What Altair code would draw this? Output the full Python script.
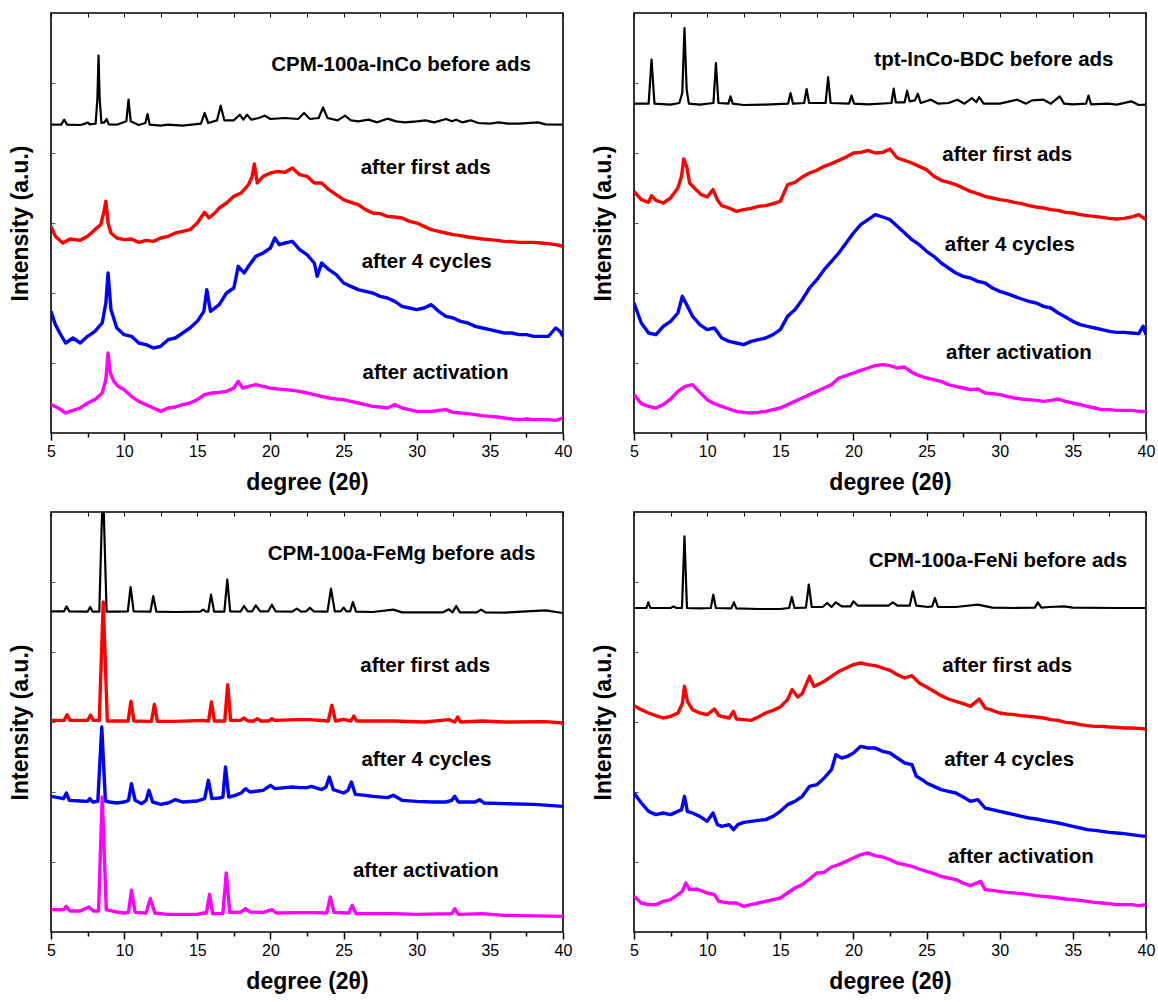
import altair as alt
import pandas as pd

# ---------------------------------------------------------------------------
# PXRD patterns (2-theta in degrees, intensity in arbitrary units)
# ---------------------------------------------------------------------------

# CPM-100a-InCo
inco_before_x = [5.0, 5.7, 5.9, 6.1, 7.0, 7.35, 7.5, 7.65, 8.05, 8.17, 8.25, 8.33, 8.45, 8.65, 8.8,
                 8.95, 9.5, 10.15, 10.3, 10.45, 11.0, 11.45, 11.6, 11.75, 12.5, 13.0, 14.0, 15.25, 15.5,
                 15.75, 16.35, 16.6, 16.85, 17.5, 17.9, 18.15, 18.4, 18.7, 19.2, 19.6, 20.0, 21.0, 21.9,
                 22.3, 22.7, 23.3, 23.6, 23.9, 24.6, 25.1, 25.5, 26.0, 26.7, 27.3, 28.0, 28.6, 29.2,
                 30.0, 30.6, 31.2, 32.0, 32.4, 32.7, 33.1, 33.7, 34.2, 35.0, 35.6, 36.2, 37.0, 38.3,
                 38.8, 40.0]
inco_before_y = [925, 925, 940, 925, 924, 928, 932, 926, 928, 1000, 1132, 1000, 930, 932, 942,
                 926, 925, 935, 1000, 935, 924, 930, 957, 925, 922, 925, 922, 928, 960,
                 930, 938, 982, 938, 938, 955, 940, 955, 940, 945, 952, 942, 945, 942,
                 960, 942, 945, 977, 945, 938, 952, 938, 935, 940, 932, 943, 935, 932,
                 935, 938, 932, 942, 935, 940, 932, 938, 930, 928, 932, 928, 928, 932,
                 926, 925]

inco_first_x = [5.0, 5.3, 5.8, 6.3, 7.0, 7.5, 8.0, 8.4, 8.6, 8.75, 8.9, 9.1, 9.5, 10.0, 10.5, 11.0,
                11.5, 12.0, 12.5, 13.0, 13.5, 14.0, 14.5, 15.0, 15.5, 15.8, 16.2, 16.5, 17.0, 17.5,
                18.0, 18.5, 18.75, 18.9, 19.1, 19.5, 20.0, 20.5, 21.0, 21.5, 22.0, 22.5, 23.0, 23.5,
                24.0, 24.5, 25.0, 25.5, 26.0, 26.5, 27.0, 27.5, 28.0, 28.5, 29.0, 29.5, 30.0, 30.5,
                31.0, 31.5, 32.0, 32.5, 33.0, 33.5, 34.0, 34.5, 35.0, 35.5, 36.0, 36.5, 37.0, 37.5,
                38.0, 38.5, 39.0, 39.5, 40.0]
inco_first_y = [620, 590, 570, 582, 578, 590, 610, 625, 660, 695, 630, 600, 585, 580, 582, 572,
                578, 575, 585, 590, 600, 605, 610, 630, 662, 645, 660, 675, 690, 710,
                720, 745, 770, 807, 750, 770, 780, 785, 782, 795, 775, 770, 750, 750,
                730, 715, 700, 692, 685, 670, 660, 658, 650, 648, 645, 635, 630, 620,
                610, 605, 600, 595, 592, 588, 585, 582, 580, 578, 575, 574, 572, 572,
                572, 570, 568, 565, 560]

inco_cycles_x = [5.0, 5.3, 5.6, 6.0, 6.5, 7.0, 7.5, 8.0, 8.5, 8.75, 8.9, 9.1, 9.5, 10.0, 10.5, 11.0,
                 11.5, 12.0, 12.5, 13.0, 13.5, 14.0, 14.5, 15.0, 15.45, 15.65, 15.9, 16.5, 17.0, 17.5,
                 17.8, 18.2, 18.5, 19.0, 19.5, 20.0, 20.3, 20.6, 21.0, 21.5, 22.0, 22.5, 23.0, 23.2,
                 23.5, 24.0, 24.5, 25.0, 25.5, 26.0, 26.5, 27.0, 27.5, 28.0, 28.5, 29.0, 29.5, 30.0,
                 30.5, 31.0, 31.5, 32.0, 32.5, 33.0, 33.5, 34.0, 34.5, 35.0, 35.5, 36.0, 36.5, 37.0,
                 37.5, 38.0, 38.5, 39.0, 39.5, 39.8, 40.0]
inco_cycles_y = [365, 325, 300, 270, 285, 270, 290, 305, 330, 390, 480, 370, 315, 295, 290, 270,
                 265, 255, 260, 280, 285, 300, 315, 335, 365, 430, 365, 385, 420, 435,
                 500, 480, 500, 530, 540, 555, 585, 565, 570, 575, 550, 535, 510, 470,
                 510, 490, 475, 450, 440, 430, 425, 420, 410, 405, 395, 380, 375, 370,
                 375, 385, 365, 350, 345, 335, 330, 320, 315, 310, 305, 300, 300, 295,
                 295, 290, 290, 290, 315, 305, 290]

inco_act_x = [5.0, 5.5, 6.0, 6.5, 7.0, 7.5, 8.0, 8.5, 8.75, 8.9, 9.05, 9.3, 9.6, 10.0, 10.5, 11.0,
              11.5, 12.0, 12.5, 13.0, 13.5, 14.0, 14.5, 15.0, 15.5, 16.0, 16.5, 17.0, 17.5, 17.8,
              18.1, 18.5, 19.0, 19.5, 20.0, 20.5, 21.0, 21.5, 22.0, 22.5, 23.0, 23.5, 24.0, 24.5,
              25.0, 25.5, 26.0, 26.5, 27.0, 27.5, 28.0, 28.5, 29.0, 29.5, 30.0, 30.5, 31.0, 31.5,
              32.0, 32.5, 33.0, 33.5, 34.0, 34.5, 35.0, 35.5, 36.0, 36.5, 37.0, 37.5, 38.0, 38.5,
              39.0, 39.5, 40.0]
inco_act_y = [85, 75, 60, 68, 75, 90, 100, 120, 160, 240, 180, 155, 140, 130, 110, 95,
              85, 75, 65, 75, 78, 85, 90, 100, 115, 120, 122, 125, 135, 155,
              135, 140, 145, 140, 135, 132, 130, 128, 125, 120, 115, 110, 105, 102,
              100, 95, 90, 85, 80, 78, 75, 85, 75, 70, 65, 65, 65, 68,
              70, 62, 60, 58, 55, 52, 50, 48, 45, 42, 40, 42, 40, 40,
              40, 38, 45]

# tpt-InCo-BDC
bdc_before_x = [5.0, 6.0, 6.2, 6.4, 7.5, 8.1, 8.3, 8.45, 8.6, 8.75, 9.5, 10.43, 10.6, 10.77, 11.45,
                11.6, 11.75, 12.5, 14.0, 15.53, 15.7, 15.87, 16.63, 16.8, 16.97, 18.1, 18.27, 18.44,
                19.7, 19.87, 20.04, 21.0, 22.6, 22.75, 22.9, 23.5, 23.67, 23.84, 24.2, 24.4, 24.6,
                25.3, 25.8, 26.5, 27.1, 27.6, 28.1, 28.4, 28.6, 28.9, 30.0, 31.2, 31.8, 32.2, 33.0,
                33.5, 34.1, 34.4, 35.0, 35.9, 36.07, 36.25, 37.4, 38.0, 39.0, 39.5, 40.0]
bdc_before_y = [988, 988, 1120, 988, 985, 990, 1020, 1215, 1030, 988, 985, 990, 1110, 990, 988,
                1010, 988, 984, 985, 988, 1020, 988, 990, 1032, 990, 990, 1068, 990,
                988, 1012, 988, 986, 990, 1033, 992, 992, 1027, 995, 998, 1018, 990,
                1000, 988, 990, 1000, 988, 1005, 992, 1008, 988, 988, 1000, 988, 998, 1000,
                988, 1010, 988, 986, 988, 1012, 986, 988, 985, 995, 984, 985]

bdc_first_x = [5.0, 5.5, 6.0, 6.2, 6.5, 7.0, 7.5, 8.0, 8.25, 8.4, 8.6, 8.8, 9.2, 9.6, 10.0, 10.4,
               10.7, 11.0, 11.5, 12.0, 12.5, 13.0, 13.5, 14.0, 14.5, 15.0, 15.5, 16.0, 16.5, 17.0,
               17.5, 18.0, 18.5, 19.0, 19.5, 20.0, 20.5, 21.0, 21.5, 22.0, 22.5, 23.0, 23.5, 24.0,
               24.5, 25.0, 25.5, 26.0, 26.5, 27.0, 27.5, 28.0, 28.5, 29.0, 29.5, 30.0, 30.5, 31.0,
               31.5, 32.0, 32.5, 33.0, 33.5, 34.0, 34.5, 35.0, 35.5, 36.0, 36.5, 37.0, 37.5, 38.0,
               38.5, 39.0, 39.5, 40.0]
bdc_first_y = [725, 700, 692, 712, 698, 690, 705, 735, 770, 822, 800, 750, 732, 715, 708, 730,
               700, 682, 675, 665, 670, 674, 680, 682, 688, 695, 745, 752, 768, 780,
               788, 800, 808, 818, 828, 840, 842, 848, 840, 842, 852, 825, 818, 810,
               800, 790, 770, 758, 752, 745, 735, 725, 718, 710, 705, 700, 697, 692,
               688, 682, 678, 675, 670, 668, 662, 660, 655, 652, 650, 647, 644, 642,
               644, 648, 655, 640]

bdc_cycles_x = [5.0, 5.5, 6.0, 6.5, 7.0, 7.5, 8.0, 8.3, 8.6, 9.0, 9.5, 10.0, 10.5, 11.0, 11.5, 12.0,
                12.5, 13.0, 13.5, 14.0, 14.5, 15.0, 15.5, 16.0, 16.5, 17.0, 17.5, 18.0, 18.5, 19.0,
                19.5, 20.0, 20.5, 21.0, 21.5, 22.0, 22.5, 23.0, 23.5, 24.0, 24.5, 25.0, 25.5, 26.0,
                26.5, 27.0, 27.5, 28.0, 28.5, 29.0, 29.5, 30.0, 30.5, 31.0, 31.5, 32.0, 32.5, 33.0,
                33.5, 34.0, 34.5, 35.0, 35.5, 36.0, 36.5, 37.0, 37.5, 38.0, 38.5, 39.0, 39.5, 39.8,
                40.0]
bdc_cycles_y = [390, 330, 300, 295, 320, 335, 360, 410, 385, 350, 325, 310, 315, 285, 275, 270,
                265, 275, 280, 285, 295, 310, 350, 370, 400, 435, 460, 490, 515, 540,
                570, 600, 625, 640, 655, 648, 640, 620, 600, 580, 565, 545, 530, 510,
                495, 480, 470, 465, 455, 450, 435, 425, 418, 410, 402, 395, 390, 380,
                375, 360, 348, 335, 325, 320, 315, 310, 305, 302, 302, 300, 298, 320,
                295]

bdc_act_x = [5.0, 5.5, 6.0, 6.5, 7.0, 7.5, 8.0, 8.5, 9.0, 9.5, 10.0, 10.5, 11.0, 11.5, 12.0, 12.5,
             13.0, 13.5, 14.0, 14.5, 15.0, 15.5, 16.0, 16.5, 17.0, 17.5, 18.0, 18.5, 19.0, 19.5,
             20.0, 20.5, 21.0, 21.5, 22.0, 22.5, 23.0, 23.5, 24.0, 24.5, 25.0, 25.5, 26.0, 26.5,
             27.0, 27.5, 28.0, 28.5, 29.0, 29.5, 30.0, 30.5, 31.0, 31.5, 32.0, 32.5, 33.0, 33.5,
             34.0, 34.5, 35.0, 35.5, 36.0, 36.5, 37.0, 37.5, 38.0, 38.5, 39.0, 39.5, 40.0]
bdc_act_y = [115, 88, 80, 75, 85, 102, 125, 140, 145, 122, 100, 88, 80, 72, 65, 62,
             60, 62, 65, 70, 75, 85, 95, 105, 115, 125, 135, 145, 165, 172,
             180, 188, 195, 202, 205, 202, 195, 198, 182, 172, 165, 160, 155, 145,
             140, 135, 130, 132, 120, 118, 115, 110, 105, 102, 100, 98, 95, 98,
             102, 95, 90, 85, 80, 75, 70, 70, 68, 68, 68, 65, 65]

# CPM-100a-FeMg
femg_before_x = [5.0, 5.9, 6.06, 6.25, 7.5, 7.68, 7.85, 8.3, 8.55, 8.8, 9.5, 10.25, 10.44, 10.65,
                 11.8, 11.99, 12.2, 13.5, 15.2, 15.4, 15.6, 15.75, 15.94, 16.15, 16.85, 17.05, 17.25,
                 17.95, 18.2, 18.45, 18.75, 19.0, 19.3, 19.85, 20.1, 20.35, 21.5, 21.8, 22.1, 22.45,
                 22.7, 22.95, 23.9, 24.14, 24.4, 24.8, 25.0, 25.2, 25.45, 25.64, 25.85, 27.0, 28.4,
                 29.0, 30.5, 31.8, 32.2, 32.45, 32.7, 32.95, 34.1, 34.4, 34.7, 36.0, 38.8, 40.0]
femg_before_y = [962, 962, 977, 962, 961, 975, 961, 961, 1350, 961, 961, 962, 1035, 962,
                 961, 1008, 961, 960, 961, 967, 961, 961, 1012, 961, 961, 1057, 962,
                 961, 978, 962, 962, 980, 962, 962, 982, 962, 961, 970, 961, 962,
                 973, 962, 961, 1030, 962, 962, 973, 962, 962, 990, 961, 960, 967,
                 959, 959, 959, 968, 959, 978, 959, 959, 967, 959, 958, 965, 957]

femg_first_x = [5.0, 5.9, 6.1, 6.3, 7.5, 7.7, 7.9, 8.3, 8.57, 8.85, 9.4, 10.27, 10.47, 10.67, 11.87,
                12.07, 12.27, 13.5, 15.4, 15.77, 15.97, 16.17, 16.88, 17.08, 17.28, 17.95, 18.2,
                18.45, 18.85, 19.1, 19.35, 19.9, 20.1, 20.3, 21.8, 22.7, 23.95, 24.2, 24.45, 25.0,
                25.5, 25.7, 25.9, 28.4, 30.5, 32.2, 32.6, 32.8, 33.0, 34.5, 36.0, 38.8, 40.0]
femg_first_y = [635, 635, 652, 635, 635, 650, 635, 635, 990, 633, 633, 633, 692, 633, 632,
                683, 632, 632, 635, 633, 690, 633, 633, 742, 635, 635, 642,
                633, 633, 640, 633, 633, 640, 635, 637, 637, 633, 680, 633, 638,
                633, 648, 633, 633, 630, 637, 630, 645, 630, 633, 630, 631, 627]

femg_cycles_x = [5.0, 5.5, 5.85, 6.05, 6.25, 7.0, 7.5, 7.65, 7.85, 8.2, 8.47, 8.72, 9.0, 9.5, 10.0,
                 10.3, 10.5, 10.75, 11.2, 11.5, 11.69, 11.95, 12.5, 13.0, 13.3, 13.5, 14.0, 15.0,
                 15.5, 15.76, 16.0, 16.5, 16.75, 16.93, 17.15, 17.6, 18.0, 18.3, 18.6, 19.5, 20.0,
                 20.3, 21.0, 21.5, 22.0, 22.5, 22.8, 23.5, 23.8, 24.02, 24.3, 25.0, 25.3, 25.54,
                 25.8, 26.5, 27.0, 28.0, 28.4, 29.0, 30.0, 31.0, 32.0, 32.4, 32.6, 32.85, 34.0,
                 34.3, 34.6, 36.0, 38.0, 40.0]
femg_cycles_y = [407, 403, 400, 417, 395, 393, 392, 400, 390, 392, 615, 393, 390, 387, 390,
                 395, 445, 395, 385, 395, 425, 390, 383, 387, 393, 397, 390, 393,
                 400, 455, 400, 402, 405, 495, 405, 410, 417, 430, 420, 425, 440,
                 430, 433, 435, 433, 433, 437, 427, 435, 465, 427, 417, 425, 450,
                 413, 410, 407, 403, 410, 395, 392, 390, 390, 395, 407, 390, 390,
                 397, 387, 385, 383, 377]

femg_act_x = [5.0, 5.85, 6.05, 6.3, 7.0, 7.6, 7.9, 8.25, 8.5, 8.78, 9.5, 10.0, 10.3, 10.5, 10.75,
              11.5, 11.79, 12.1, 13.0, 15.0, 15.4, 15.62, 15.84, 16.05, 16.75, 16.98, 17.22, 18.0,
              18.3, 18.6, 19.5, 20.1, 20.4, 21.8, 23.0, 23.85, 24.09, 24.35, 25.35, 25.59, 25.85,
              28.5, 30.0, 32.4, 32.6, 32.85, 34.5, 36.0, 40.0]
femg_act_y = [67, 67, 77, 63, 63, 75, 63, 63, 405, 67, 60, 57, 59, 125, 59,
              57, 100, 57, 53, 53, 57, 57, 113, 55, 55, 177, 59, 60,
              70, 60, 59, 67, 57, 58, 58, 57, 105, 59, 57, 80, 55,
              55, 53, 55, 70, 53, 55, 50, 47]

# CPM-100a-FeNi
feni_before_x = [5.0, 5.85, 5.98, 6.12, 7.5, 7.7, 7.9, 8.28, 8.45, 8.62, 9.5, 10.25, 10.42, 10.6,
                 11.65, 11.83, 12.0, 13.5, 15.0, 15.6, 15.79, 15.97, 16.75, 16.95, 17.15, 17.9, 18.2,
                 18.5, 18.8, 19.2, 19.8, 20.0, 20.3, 21.5, 22.4, 22.7, 23.0, 23.85, 24.06, 24.3,
                 25.1, 25.38, 25.57, 25.78, 27.0, 28.5, 29.5, 31.0, 32.4, 32.61, 32.85, 33.4, 34.4,
                 35.0, 38.0, 40.0]
feni_before_y = [972, 972, 989, 972, 972, 977, 972, 972, 1187, 972, 971, 972, 1012, 972,
                 971, 989, 971, 969, 969, 972, 1005, 972, 973, 1042, 975, 975, 987,
                 975, 989, 977, 977, 992, 979, 979, 979, 989, 979, 979, 1022, 979,
                 975, 977, 1002, 975, 975, 982, 973, 972, 973, 989, 973, 975, 977,
                 973, 972, 972]

feni_first_x = [5.0, 5.5, 6.0, 6.5, 7.0, 7.5, 8.0, 8.3, 8.45, 8.65, 9.0, 9.5, 10.0, 10.5, 10.8,
                11.2, 11.5, 11.8, 12.0, 12.5, 13.0, 13.5, 14.0, 14.5, 15.0, 15.5, 15.8, 16.2, 16.5,
                17.0, 17.3, 17.7, 18.0, 18.5, 19.0, 19.5, 20.0, 20.5, 21.0, 21.5, 22.0, 22.5, 23.0,
                23.5, 24.0, 24.5, 25.0, 25.5, 26.0, 26.5, 27.0, 27.5, 28.0, 28.6, 29.0, 29.5, 30.0,
                30.5, 31.0, 31.5, 32.0, 32.5, 33.0, 33.5, 34.0, 34.5, 35.0, 35.5, 36.0, 36.5, 37.0,
                37.5, 38.0, 38.5, 39.0, 39.5, 40.0]
feni_first_y = [679, 667, 657, 649, 642, 647, 657, 685, 737, 692, 667, 657, 652, 669, 649,
                645, 642, 662, 639, 637, 635, 645, 657, 665, 675, 697, 727, 705, 715,
                767, 737, 745, 752, 767, 782, 792, 802, 807, 802, 799, 792, 785, 772,
                762, 769, 747, 735, 722, 709, 699, 692, 685, 677, 699, 672, 665, 657,
                654, 652, 649, 647, 645, 642, 637, 635, 629, 627, 622, 619, 617, 617,
                615, 614, 612, 612, 611, 609]

feni_cycles_x = [5.0, 5.5, 6.0, 6.5, 7.0, 7.5, 8.0, 8.25, 8.45, 8.65, 9.0, 9.5, 10.0, 10.4, 10.7,
                 11.0, 11.5, 11.8, 12.1, 12.5, 13.0, 13.5, 14.0, 14.5, 15.0, 15.5, 16.0, 16.5, 17.0,
                 17.5, 18.0, 18.5, 18.8, 19.2, 19.6, 20.0, 20.5, 21.0, 21.5, 22.0, 22.5, 23.0, 23.5,
                 24.0, 24.3, 24.7, 25.0, 25.5, 26.0, 26.5, 27.0, 27.5, 28.0, 28.5, 29.0, 29.5, 30.0,
                 30.5, 31.0, 31.5, 32.0, 32.5, 33.0, 33.5, 34.0, 34.5, 35.0, 35.5, 36.0, 36.5, 37.0,
                 37.5, 38.0, 38.5, 39.0, 39.5, 40.0]
feni_cycles_y = [417, 387, 362, 352, 357, 352, 362, 367, 407, 362, 357, 347, 332, 357, 322,
                 317, 322, 307, 322, 329, 332, 335, 337, 347, 362, 382, 392, 407, 437,
                 442, 462, 487, 532, 522, 527, 537, 557, 552, 552, 542, 537, 522, 507,
                 502, 467, 457, 447, 437, 427, 422, 417, 405, 392, 397, 372, 367, 362,
                 357, 352, 347, 342, 339, 335, 331, 327, 322, 317, 312, 307, 305, 302,
                 299, 297, 295, 292, 289, 287]

feni_act_x = [5.0, 5.5, 6.0, 6.5, 7.0, 7.5, 8.0, 8.3, 8.55, 8.8, 9.3, 10.0, 10.5, 10.8, 11.5, 12.0,
              12.5, 13.0, 13.5, 14.0, 14.5, 15.0, 15.5, 16.0, 16.5, 17.0, 17.5, 18.0, 18.5, 19.0,
              19.5, 20.0, 20.5, 21.0, 21.5, 22.0, 22.5, 23.0, 23.5, 24.0, 24.5, 25.0, 25.5, 26.0,
              26.5, 27.0, 27.5, 28.0, 28.7, 29.0, 29.5, 30.0, 30.5, 31.0, 31.5, 32.0, 32.5, 33.0,
              33.5, 34.0, 34.5, 35.0, 35.5, 36.0, 36.5, 37.0, 37.5, 38.0, 38.5, 39.0, 39.5, 40.0]
feni_act_y = [107, 87, 82, 82, 92, 97, 112, 122, 147, 127, 129, 117, 112, 92, 87, 87,
              77, 82, 87, 92, 97, 102, 117, 132, 142, 159, 177, 179, 195, 202,
              212, 222, 232, 237, 229, 225, 217, 207, 202, 197, 189, 182, 175, 167,
              162, 157, 147, 139, 152, 127, 125, 122, 119, 117, 115, 112, 109, 107,
              105, 102, 99, 97, 95, 92, 89, 87, 85, 82, 82, 82, 79, 82]

# Curve annotations: text, 2-theta, intensity
inco_labels = [("CPM-100a-InCo before ads", 20.05, 1105), ("after first ads", 26.17, 795),
               ("after 4 cycles", 26.24, 512), ("after activation", 26.3, 180)]
bdc_labels = [("tpt-InCo-BDC before ads", 21.43, 1120), ("after first ads", 26.08, 833),
              ("after 4 cycles", 26.25, 565), ("after activation", 26.33, 240)]
femg_labels = [("CPM-100a-FeMg before ads", 19.81, 1135), ("after first ads", 26.14, 798),
               ("after 4 cycles", 26.22, 515), ("after activation", 25.64, 183)]
feni_labels = [("CPM-100a-FeNi before ads", 21.04, 1112), ("after first ads", 26.08, 799),
               ("after 4 cycles", 26.2, 517), ("after activation", 26.46, 225)]

# ---------------------------------------------------------------------------
FONT = "Liberation Sans"
SERIES_STYLE = [("#000000", 2.2), ("#ff0000", 3.4), ("#0000ff", 3.4), ("#ff00ff", 3.4)]
X_TICKS = [5, 7.5, 10, 12.5, 15, 17.5, 20, 22.5, 25, 27.5, 30, 32.5, 35, 37.5, 40]
Y_TICKS = [210, 420, 630, 840, 1050]

x_scale = alt.Scale(domain=[5, 40], nice=False, zero=False)
y_scale = alt.Scale(domain=[0, 1260], nice=False, zero=False)

bottom_axis = alt.Axis(
    values=X_TICKS,
    labelExpr="datum.value % 5 === 0 ? datum.label : ''",
    tickSize={"condition": {"test": "datum.value % 5 === 0", "value": 7}, "value": 4},
    tickColor="black", tickWidth=1.5, domain=False, grid=False,
    labelFlush=False, labelFontSize=16, labelPadding=3, labelColor="black", labelFont=FONT,
    title="degree (2θ)", titleFontSize=23, titleFontWeight="bold", titleColor="black",
    titleFont=FONT, titlePadding=12,
)
left_axis = alt.Axis(
    orient="left", offset=-4, values=Y_TICKS, tickSize=4, tickColor="#555555", tickWidth=1,
    labels=False, domain=False, grid=False,
    title="Intensity (a.u.)", titleFontSize=23, titleFontWeight="bold", titleColor="black",
    titleFont=FONT, titlePadding=18,
)
top_axis = alt.Axis(
    orient="top", offset=-4, values=X_TICKS, tickSize=4, tickColor="black", tickWidth=1,
    labels=False, domain=False, grid=False, title=None,
)


def make_panel(curves, labels):
    layers = []
    for i, ((xs, ys), (color, width)) in enumerate(zip(curves, SERIES_STYLE)):
        df = pd.DataFrame({"deg": xs, "intensity": ys})
        if i == 0:
            x_enc = alt.X("deg:Q", scale=x_scale, axis=bottom_axis)
            y_enc = alt.Y("intensity:Q", scale=y_scale, axis=left_axis)
        else:
            x_enc = alt.X("deg:Q", scale=x_scale, axis=None)
            y_enc = alt.Y("intensity:Q", scale=y_scale, axis=None)
        layers.append(
            alt.Chart(df)
            .mark_line(color=color, strokeWidth=width, clip=True, strokeJoin="round")
            .encode(x=x_enc, y=y_enc)
        )
    lab = pd.DataFrame(labels, columns=["text", "deg", "intensity"])
    text = (
        alt.Chart(lab)
        .mark_text(align="left", baseline="middle", font=FONT, fontSize=20.5,
                   fontWeight="bold", color="black")
        .encode(
            x=alt.X("deg:Q", scale=x_scale, axis=top_axis),
            y=alt.Y("intensity:Q", scale=y_scale, axis=None),
            text="text:N",
        )
    )
    return (
        alt.layer(*layers, text)
        .resolve_axis(x="independent", y="independent")
        .properties(width=512, height=420)
    )


p_inco = make_panel([(inco_before_x, inco_before_y), (inco_first_x, inco_first_y),
                     (inco_cycles_x, inco_cycles_y), (inco_act_x, inco_act_y)], inco_labels)
p_bdc = make_panel([(bdc_before_x, bdc_before_y), (bdc_first_x, bdc_first_y),
                    (bdc_cycles_x, bdc_cycles_y), (bdc_act_x, bdc_act_y)], bdc_labels)
p_femg = make_panel([(femg_before_x, femg_before_y), (femg_first_x, femg_first_y),
                     (femg_cycles_x, femg_cycles_y), (femg_act_x, femg_act_y)], femg_labels)
p_feni = make_panel([(feni_before_x, feni_before_y), (feni_first_x, feni_first_y),
                     (feni_cycles_x, feni_cycles_y), (feni_act_x, feni_act_y)], feni_labels)

chart = (
    alt.vconcat(
        alt.hconcat(p_inco, p_bdc, spacing=18),
        alt.hconcat(p_femg, p_feni, spacing=18),
        spacing=15,
    )
    .properties(padding={"left": 8, "top": 11, "right": 0, "bottom": 0}, background="white")
    .configure_view(stroke="black", strokeWidth=1.6)
)

chart.save("out.html", embed_options={"renderer": "svg", "actions": False})
